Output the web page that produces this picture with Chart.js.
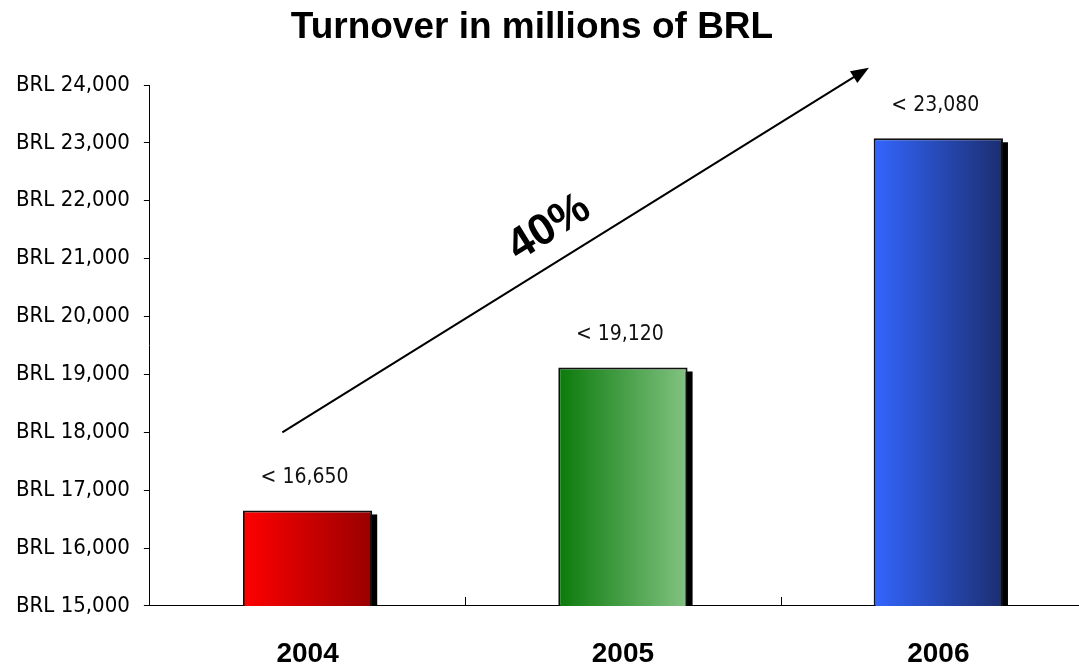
<!DOCTYPE html>
<html lang="en">
<head>
  <meta charset="UTF-8" />
  <title>Turnover in millions of BRL</title>
  <script src="https://cdn.jsdelivr.net/npm/chart.js"></script>
  <style>
    body {
      margin: 0;
      background: #fff;
      overflow: hidden;
      width: 1079px;
      height: 667px;
      position: relative;
    }

    .title {
      position: absolute;
      left: 0;
      top: 5px;
      width: 1064px;
      text-align: center;
      font-family: 'Liberation Sans', Arial, sans-serif;
      font-weight: bold;
      font-size: 37px;
      color: #000;
      margin: 0;
      z-index: 2;
    }

    .wrap {
      position: absolute;
      left: 0;
      top: 0;
      width: 1100px;
      height: 667px;
    }
  </style>
</head>
<body>
  <h1 class="title">Turnover in millions of BRL</h1>
  <div class="wrap">
    <canvas id="turnoverChart"></canvas>
  </div>

  <script>
    const years = ['2004', '2005', '2006'];
    const turnover = [16650, 19120, 23080];
    const yTicks = [15000, 24000, 1000]; // min, max, step
    const growthLabel = '40%';
    // bar gradients, left -> right
    const barColors = [
      ['#ff0000', '#990000'],
      ['#0b7a0b', '#82c382'],
      ['#3366ff', '#1b2e70']
    ];

    const narrow = "'DejaVu Sans Condensed', 'Liberation Sans Narrow', sans-serif";
    const BAR_PCT = 0.41;

    function barGradient(ctx) {
      const chart = ctx.chart;
      if (!chart.chartArea) return barColors[ctx.dataIndex][0];
      const xs = chart.scales.x;
      const c = xs.getPixelForValue(ctx.dataIndex);
      const half = (xs.width / years.length) * BAR_PCT / 2;
      const g = chart.ctx.createLinearGradient(c - half, 0, c + half, 0);
      g.addColorStop(0, barColors[ctx.dataIndex][0]);
      g.addColorStop(1, barColors[ctx.dataIndex][1]);
      return g;
    }

    // black drop shadow behind each bar
    const shadowPlugin = {
      id: 'shadow',
      beforeDatasetsDraw(chart) {
        const ctx = chart.ctx;
        const bottom = chart.chartArea.bottom;
        const bars = chart.getDatasetMeta(0).data;
        ctx.save();
        ctx.fillStyle = '#000';
        bars.forEach(b => {
          const base = Math.min(b.base, bottom);
          ctx.fillRect(b.x - b.width / 2 + 5, b.y + 4, b.width, base - b.y - 4);
        });
        ctx.restore();
      }
    };

    // value labels, category ticks, growth arrow
    const annotatePlugin = {
      id: 'annotate',
      afterDatasetsDraw(chart) {
        const ctx = chart.ctx;
        const xs = chart.scales.x;
        const ys = chart.scales.y;
        ctx.save();

        // small ticks between categories, pointing up
        ctx.strokeStyle = '#000';
        ctx.lineWidth = 1;
        for (let i = 0; i < years.length; i++) {
          const x = Math.round(xs.getPixelForValue(i + 0.5)) + 0.5;
          ctx.beginPath();
          ctx.moveTo(x, ys.bottom);
          ctx.lineTo(x, ys.bottom - 9);
          ctx.stroke();
        }

        // value labels
        ctx.fillStyle = '#111';
        ctx.font = '21px ' + narrow;
        ctx.textAlign = 'center';
        ctx.textBaseline = 'middle';
        chart.getDatasetMeta(0).data.forEach((b, i) => {
          ctx.fillText('< ' + turnover[i].toLocaleString('en-US'), b.x - 3, b.y - 33);
        });

        // growth arrow
        const x0 = xs.getPixelForValue(-0.08), y0 = ys.getPixelForValue(18000);
        const x1 = xs.getPixelForValue(1.78), y1 = ys.getPixelForValue(24300);
        const ang = Math.atan2(y1 - y0, x1 - x0);
        ctx.lineWidth = 2;
        ctx.beginPath();
        ctx.moveTo(x0, y0);
        ctx.lineTo(x1 - 14 * Math.cos(ang), y1 - 14 * Math.sin(ang));
        ctx.stroke();
        ctx.beginPath();
        ctx.moveTo(x1, y1);
        ctx.lineTo(x1 - 18 * Math.cos(ang) + 7 * Math.sin(ang), y1 - 18 * Math.sin(ang) - 7 * Math.cos(ang));
        ctx.lineTo(x1 - 18 * Math.cos(ang) - 7 * Math.sin(ang), y1 - 18 * Math.sin(ang) + 7 * Math.cos(ang));
        ctx.closePath();
        ctx.fillStyle = '#000';
        ctx.fill();

        // growth label
        const tx = xs.getPixelForValue(0.766), ty = ys.getPixelForValue(21530);
        ctx.translate(tx, ty);
        ctx.rotate(ang);
        ctx.font = 'bold 44px "Liberation Sans", Arial, sans-serif';
        ctx.fillText(growthLabel, 0, 0);
        ctx.restore();
      }
    };

    new Chart(document.getElementById('turnoverChart'), {
      type: 'bar',
      data: {
        labels: years,
        datasets: [{
          data: turnover,
          backgroundColor: barGradient,
          borderColor: '#111',
          borderWidth: 2,
          borderSkipped: false,
          categoryPercentage: 1,
          barPercentage: BAR_PCT
        }]
      },
      options: {
        responsive: true,
        maintainAspectRatio: false,
        animation: false,
        layout: {
          padding: { top: 85, right: 4, bottom: 0, left: 2 }
        },
        plugins: {
          legend: { display: false },
          tooltip: { enabled: false },
          title: { display: false }
        },
        scales: {
          x: {
            grid: { drawOnChartArea: false, drawTicks: true, tickLength: 35, color: 'rgba(0,0,0,0)' },
            border: { display: true, color: '#000', width: 1 },
            ticks: {
              color: '#000',
              padding: 0,
              font: { family: "'Liberation Sans', Arial, sans-serif", size: 28, weight: 'bold', lineHeight: 0.93 }
            }
          },
          y: {
            min: yTicks[0],
            max: yTicks[1],
            grid: { drawOnChartArea: false, drawTicks: true, tickLength: 6, color: '#000' },
            border: { display: true, color: '#000', width: 1 },
            ticks: {
              stepSize: yTicks[2],
              color: '#000',
              padding: 14,
              font: { family: narrow, size: 22 },
              callback: v => 'BRL ' + v.toLocaleString('en-US')
            }
          }
        }
      },
      plugins: [shadowPlugin, annotatePlugin]
    });
  </script>
</body>
</html>
